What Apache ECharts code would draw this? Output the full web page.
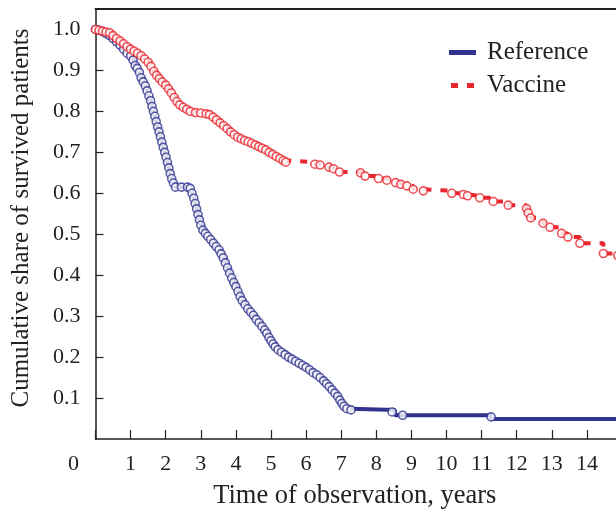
<!DOCTYPE html>
<html>
<head>
<meta charset="utf-8">
<script src="https://cdn.jsdelivr.net/npm/echarts@6/dist/echarts.min.js"></script>
<style>html,body{margin:0;padding:0;background:#fff}#c{width:616px;height:511px}</style>
</head>
<body>
<div id="c"></div>
<script>
// ---- Data ----
var xTicks = [0,1,2,3,4,5,6,7,8,9,10,11,12,13,14,15];
var yTicks = [0.1,0.2,0.3,0.4,0.5,0.6,0.7,0.8,0.9,1.0];

// Reference group: points along the Kaplan-Meier curve (with censor circles)
var refTime = [0.00,0.10,0.20,0.30,0.40,0.50,0.60,0.70,0.80,0.90,1.00,1.07,1.13,1.19,1.25,1.30,1.36,1.42,1.47,1.52,1.57,1.61,1.65,1.69,1.73,1.77,1.81,1.85,1.89,1.93,1.97,2.01,2.05,2.09,2.13,2.17,2.22,2.28,2.45,2.62,2.70,2.75,2.80,2.84,2.88,2.92,2.96,3.00,3.06,3.13,3.20,3.28,3.36,3.44,3.52,3.58,3.64,3.70,3.76,3.82,3.88,3.94,4.00,4.06,4.12,4.18,4.26,4.34,4.42,4.50,4.58,4.66,4.74,4.82,4.88,4.94,5.00,5.06,5.12,5.20,5.30,5.40,5.50,5.60,5.70,5.80,5.90,6.00,6.10,6.20,6.30,6.40,6.50,6.58,6.66,6.74,6.82,6.90,6.96,7.02,7.08,7.16,7.28];
var refSurv = [1.000,0.998,0.995,0.990,0.985,0.978,0.970,0.962,0.952,0.942,0.935,0.925,0.912,0.905,0.895,0.882,0.872,0.862,0.850,0.838,0.826,0.812,0.800,0.788,0.775,0.762,0.750,0.738,0.725,0.712,0.700,0.688,0.675,0.662,0.648,0.636,0.625,0.615,0.615,0.615,0.612,0.600,0.588,0.575,0.562,0.548,0.535,0.522,0.510,0.502,0.495,0.487,0.478,0.470,0.462,0.452,0.442,0.430,0.418,0.405,0.393,0.382,0.372,0.360,0.348,0.338,0.328,0.318,0.310,0.302,0.292,0.284,0.275,0.266,0.258,0.248,0.240,0.232,0.225,0.218,0.212,0.206,0.200,0.195,0.190,0.185,0.180,0.175,0.169,0.162,0.157,0.150,0.142,0.135,0.128,0.120,0.112,0.104,0.095,0.087,0.080,0.074,0.071];
// Reference group: later steps (line only)
var refTailTime = [8.53,11.25,15.0];
var refTailSurv = [0.058,0.049,0.049];
// Reference group: isolated censor marks on the tail
var refCensTime = [8.45,8.75,11.27];
var refCensSurv = [0.066,0.058,0.054];

// Vaccine group: points along the curve (with censor circles)
var vacTime = [0.00,0.10,0.20,0.30,0.40,0.50,0.60,0.70,0.80,0.90,1.00,1.10,1.20,1.30,1.40,1.50,1.58,1.66,1.74,1.82,1.90,2.00,2.08,2.16,2.24,2.32,2.40,2.50,2.60,2.70,2.85,3.00,3.15,3.25,3.35,3.45,3.55,3.65,3.75,3.85,3.95,4.05,4.15,4.25,4.35,4.45,4.55,4.65,4.75,4.85,4.95,5.05,5.15,5.25,5.35,5.42,6.25,6.40,6.65,6.78,6.95,7.55,7.68,8.06,8.30,8.55,8.70,8.87,9.05,9.34,10.15,10.48,10.60,10.95,11.33,11.76,12.28,12.33,12.40,12.75,12.95,13.28,13.46,13.80,14.47,14.88];
var vacSurv = [1.000,0.998,0.996,0.994,0.992,0.985,0.978,0.972,0.965,0.958,0.952,0.947,0.942,0.936,0.928,0.920,0.910,0.898,0.888,0.880,0.872,0.864,0.855,0.845,0.834,0.824,0.816,0.810,0.805,0.800,0.797,0.796,0.794,0.792,0.786,0.779,0.772,0.765,0.758,0.750,0.743,0.737,0.733,0.729,0.726,0.722,0.718,0.714,0.710,0.706,0.700,0.695,0.690,0.685,0.680,0.676,0.671,0.669,0.664,0.660,0.652,0.650,0.642,0.636,0.632,0.626,0.622,0.618,0.610,0.606,0.600,0.597,0.594,0.589,0.580,0.571,0.563,0.552,0.540,0.527,0.517,0.502,0.493,0.478,0.453,0.448];

var seriesNames = ['Reference','Vaccine'];

// ---- Chart ----
var BLUE = '#30338f', RED = '#e8262d';
var FONT = '"Liberation Serif", "Times New Roman", serif';
function pairs(t, s){ var o=[]; for(var i=0;i<t.length;i++) o.push([t[i], s[i]]); return o; }

var chart = echarts.init(document.getElementById('c'), null, {renderer:'canvas'});
chart.setOption({
  animation: false,
  backgroundColor: '#fff',
  grid: { left: 95.5, top: 9, bottom: 72, right: -6, containLabel: false, outerBoundsMode: 'none' },
  legend: {
    orient: 'vertical', left: 444, top: 35, padding: 5, itemGap: 8, itemWidth: 27, itemHeight: 5,
    textStyle: { fontFamily: FONT, fontSize: 25, color: '#222', padding: [0,0,0,6] },
    data: [
      { name: seriesNames[0], icon: 'rect', itemStyle: { color: BLUE } },
      { name: seriesNames[1], icon: 'path://M0,0 H7 V5 H0 Z M16,0 H23 V5 H16 Z', itemStyle: { color: RED } }
    ]
  },
  xAxis: [{
    type: 'value', min: 0, max: 15, interval: 1,
    name: 'Time of observation, years', nameLocation: 'middle', nameGap: 44,
    nameTextStyle: { fontFamily: FONT, fontSize: 26.5, color: '#222', padding: [0,8,0,0] },
    axisLine: { show: true, lineStyle: { color: '#222', width: 1.5 } },
    axisTick: { show: true, inside: true, length: 9, lineStyle: { color: '#222', width: 1.2 } },
    splitLine: { show: false },
    axisLabel: {
      margin: 14, fontFamily: FONT, fontSize: 22, color: '#222', showMaxLabel: false,
      formatter: function(v){ return v === 0 ? '{z|0}' : String(xTicks[v]); },
      rich: { z: { fontFamily: FONT, fontSize: 22, color: '#222', padding: [0,44,0,0] } }
    }
  }, {
    type: 'value', min: 0, max: 15, position: 'top',
    axisLine: { show: true, lineStyle: { color: '#222', width: 1.8 } },
    axisTick: { show: false }, axisLabel: { show: false }, splitLine: { show: false }
  }],
  yAxis: {
    type: 'value', min: 0, max: 1.05, interval: 0.1,
    name: 'Cumulative share of survived patients', nameLocation: 'middle', nameGap: 62, nameRotate: 90,
    nameTextStyle: { fontFamily: FONT, fontSize: 25, color: '#222', padding: [0,0,0,12] },
    axisLine: { show: true, lineStyle: { color: '#222', width: 1.5 } },
    axisTick: { show: true, inside: true, length: 8, lineStyle: { color: '#222', width: 1.2 } },
    splitLine: { show: false },
    axisLabel: {
      margin: 15, fontFamily: FONT, fontSize: 22, color: '#222', showMaxLabel: false, showMinLabel: false,
      formatter: function(v){ for (var i=0;i<yTicks.length;i++){ if (Math.abs(yTicks[i]-v) < 1e-6) return yTicks[i].toFixed(1); } return ''; }
    }
  },
  series: [
    { name: seriesNames[0], type: 'line', step: 'end', showSymbol: false, symbol: 'none',
      data: pairs(refTime.concat(refTailTime), refSurv.concat(refTailSurv)),
      lineStyle: { color: BLUE, width: 4 }, itemStyle: { color: BLUE }, z: 2 },
    { name: seriesNames[0] + ' censored', type: 'scatter', symbol: 'circle', symbolSize: 8,
      data: pairs(refTime.concat(refCensTime), refSurv.concat(refCensSurv)),
      itemStyle: { color: '#fff', borderColor: BLUE, borderWidth: 1.6 }, z: 3 },
    { name: seriesNames[1], type: 'line', step: 'end', showSymbol: false, symbol: 'none',
      data: pairs(vacTime, vacSurv),
      lineStyle: { color: RED, width: 4, type: [7, 9] }, itemStyle: { color: RED }, z: 4 },
    { name: seriesNames[1] + ' censored', type: 'scatter', symbol: 'circle', symbolSize: 8,
      data: pairs(vacTime, vacSurv),
      itemStyle: { color: '#fff', borderColor: RED, borderWidth: 1.6 }, z: 5 }
  ]
});
</script>
</body>
</html>
